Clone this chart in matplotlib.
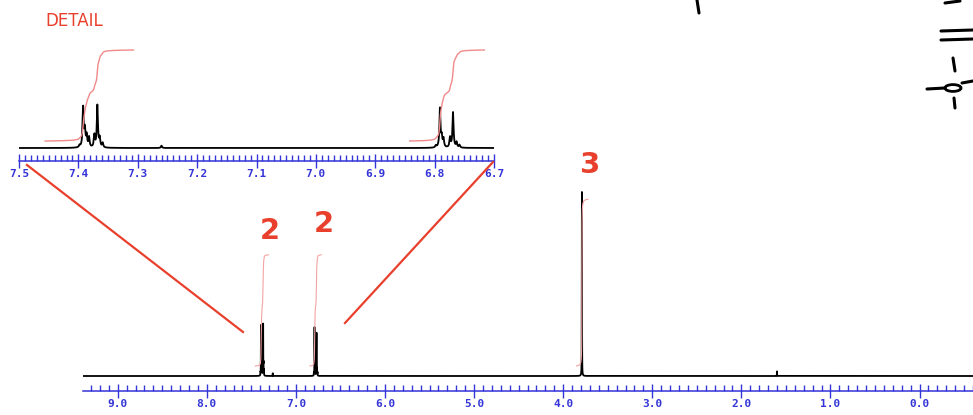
import numpy as np
import matplotlib.pyplot as plt
from matplotlib.lines import Line2D
from matplotlib.patches import Circle

# 1H NMR peak list (ppm, relative height, methyl = 1)
arom1_ppm = [7.398, 7.392, 7.389, 7.386, 7.382, 7.373, 7.368, 7.364, 7.359]
arom1_hgt = [0.013, 0.26, 0.11, 0.075, 0.065, 0.08, 0.275, 0.06, 0.03]
arom2_ppm = [6.798, 6.791, 6.788, 6.785, 6.774, 6.769, 6.763, 6.758]
arom2_hgt = [0.013, 0.255, 0.065, 0.055, 0.065, 0.23, 0.035, 0.018]
other_ppm = [7.26, 3.79, 1.60]
other_hgt = [0.015, 1.0, 0.025]

# integral regions (ppm from, ppm to) and proton counts
integ_regions = [(7.456, 7.307), (6.842, 6.716), (3.85, 3.72)]
integ_protons = [2, 2, 3]

W, H = 973, 415
RULER = '#3434d8'
RED = '#e8402c'

peaks_ppm = np.array(arom1_ppm + arom2_ppm + other_ppm)
peaks_hgt = np.array(arom1_hgt + arom2_hgt + other_hgt)

ppm = np.arange(-0.6, 9.4, 0.0002)
gam = 0.0011
spec = np.zeros_like(ppm)
for p, h in zip(peaks_ppm, peaks_hgt):
    spec += h * gam**2 / ((ppm - p)**2 + gam**2)


def integral(lo_hi):
    hi, lo = lo_hi
    m = (ppm <= hi) & (ppm >= lo)
    x = ppm[m][::-1]
    c = np.cumsum(spec[m][::-1])
    return x, c / c[-1]


def px_axes(x0, y0, x1, y1):
    return fig.add_axes([x0 / W, 1 - y1 / H, (x1 - x0) / W, (y1 - y0) / H])


def style_ruler(ax, major, minor):
    for s in ['top', 'left', 'right']:
        ax.spines[s].set_visible(False)
    ax.spines['bottom'].set_color(RULER)
    ax.spines['bottom'].set_linewidth(1.1)
    ax.set_yticks([])
    ax.xaxis.set_major_locator(plt.MultipleLocator(major))
    ax.xaxis.set_minor_locator(plt.MultipleLocator(minor))
    ax.xaxis.set_major_formatter(plt.FormatStrFormatter('%.1f'))
    ax.tick_params(axis='x', which='major', direction='inout', length=9.5,
                   width=1.0, color=RULER, labelcolor=RULER, labelsize=8, pad=1)
    ax.tick_params(axis='x', which='minor', direction='in', length=4,
                   width=1.0, color=RULER)
    for lab in ax.get_xticklabels():
        lab.set_family('DejaVu Sans Mono')
        lab.set_weight('bold')
    ax.patch.set_alpha(0)


fig = plt.figure(figsize=(W / 100, H / 100), dpi=100)

# main spectrum
ax = px_axes(83, 150, 973, 391)
ax.plot(ppm, spec * 184, color='black', lw=1.3)
for reg, n in zip(integ_regions, integ_protons):
    x, c = integral(reg)
    ax.plot(x, 10 + c * n * 55.6, color='#f4a3a3', lw=0.8)
ax.set_xlim(9.39, -0.6)
ax.set_ylim(-15, 226)
style_ruler(ax, 1.0, 0.1)

# detail inset
axd = px_axes(19, 40, 494, 161)
m = (ppm >= 6.69) & (ppm <= 7.5)
axd.plot(ppm[m], spec[m] * 152.8, color='black', lw=1.3)
for reg, n in zip(integ_regions[:2], integ_protons[:2]):
    x, c = integral(reg)
    axd.plot(x, 7 + c * n * 45.5, color='#f08a8a', lw=1.0)
axd.set_xlim(7.5, 6.7)
axd.set_ylim(-13, 108)
style_ruler(axd, 0.1, 0.01)


# hand-drawn annotations
def fx(x):
    return x / W


def fy(y):
    return 1 - y / H


fig.add_artist(Line2D([fx(27), fx(243)], [fy(165), fy(332)], color=RED, lw=1.6))
fig.add_artist(Line2D([fx(493), fx(345)], [fy(162), fy(323)], color=RED, lw=1.6))
fig.text(fx(74), fy(21), 'DETAIL', color=RED, fontsize=12, ha='center', va='center')
for lab, (x, y) in zip([str(n) for n in integ_protons], [(270, 231), (324, 224), (590, 165)]):
    fig.text(fx(x), fy(y), lab, color=RED, fontsize=21, weight='semibold',
             ha='center', va='center')

# partial structure sketch in the top right corner
ink = dict(color='black', lw=2.2, solid_capstyle='round')
for xs, ys in [([697, 699], [0, 13]),
               ([941, 973], [31, 30]), ([941, 973], [40, 39]),
               ([945, 960], [3, 1]),
               ([953, 955], [58, 71]), ([954, 955], [98, 108]),
               ([927, 945], [89, 88]), ([962, 973], [83, 81])]:
    fig.add_artist(Line2D([fx(v) for v in xs], [fy(v) for v in ys], **ink))
fig.add_artist(Circle((fx(953), fy(88)), 8 / W, transform=fig.transFigure,
                      fill=False, edgecolor='black', lw=2.0))

fig.savefig('out.png', dpi=100)
